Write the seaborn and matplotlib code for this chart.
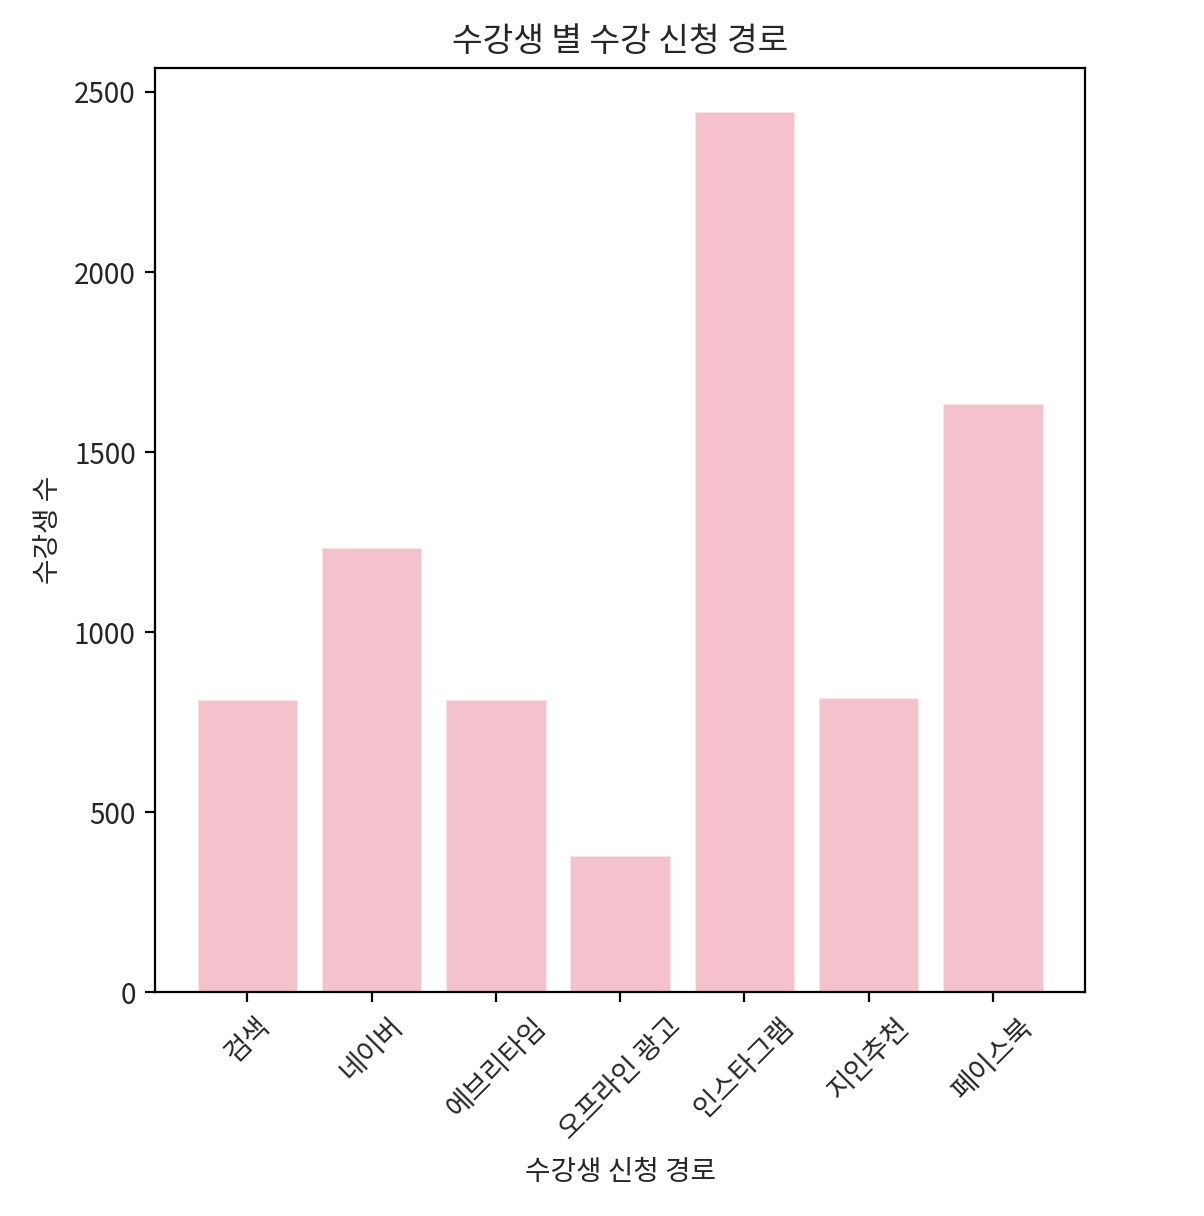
import seaborn as sns
import matplotlib.pyplot as plt
import pandas as pd

# 수강 신청 경로별 수강생 수
routes = ['검색', '네이버', '에브리타임', '오프라인 광고', '인스타그램', '지인추천', '페이스북']
counts = [811, 1233, 811, 378, 2444, 817, 1633]

df = pd.DataFrame({'route': routes, 'count': counts})

sns.set_style('ticks')
plt.rcParams['font.family'] = ['Noto Sans CJK KR', 'DejaVu Sans']

fig = plt.figure(figsize=(6.02, 6.08), dpi=200)
ax = fig.add_axes([0.129, 0.184, 0.772, 0.76])

sns.barplot(data=df, x='route', y='count', color='#F4C2CC', saturation=1,
            width=0.8, edgecolor='#FBE3E8', linewidth=0.3, ax=ax)

ax.set_xlim(-0.74, 6.74)
ax.set_ylim(0, max(counts) * 1.05)
for s in ax.spines.values():
    s.set_visible(True)
    s.set_color('black')
    s.set_linewidth(0.8)

ax.set_title('수강생 별 수강 신청 경로', fontsize=12)
ax.set_xlabel('수강생 신청 경로', fontsize=10)
ax.set_ylabel('수강생 수', fontsize=10)
ax.tick_params(axis='both', labelsize=10, length=3.5, width=0.8, color='black')
plt.setp(ax.get_xticklabels(), rotation=45)

fig.savefig('out.png', dpi=200)
